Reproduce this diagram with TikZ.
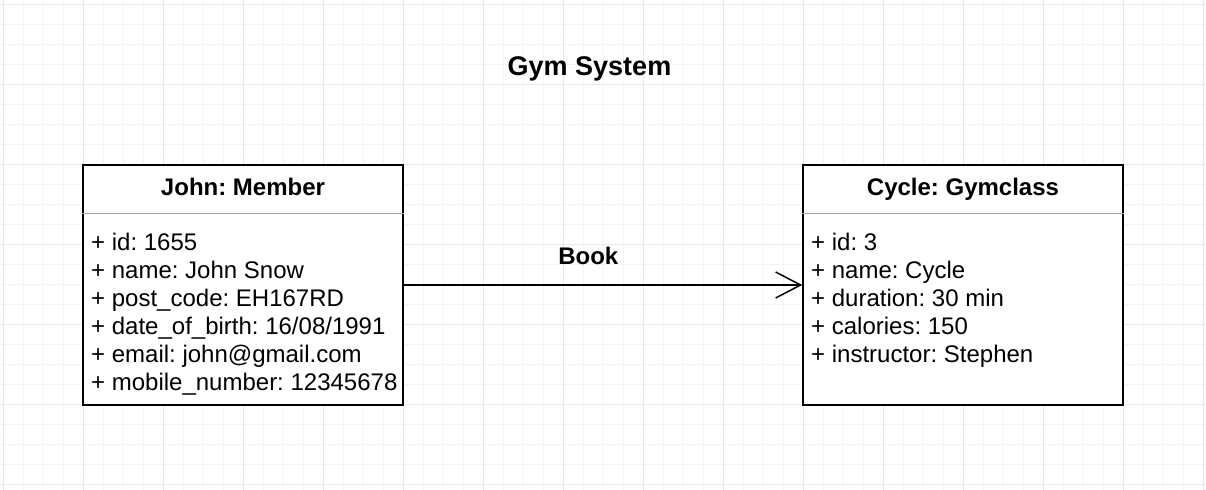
\documentclass[tikz,border=0pt]{standalone}
\usepackage{fontspec}
\setmainfont{Liberation Sans}
\usepackage{xcolor}
\usepackage{tikz}
\usetikzlibrary{arrows.meta}
\frenchspacing

\definecolor{gridminor}{HTML}{F4F4F4}
\definecolor{gridmajor}{HTML}{E8E8E8}
\definecolor{sepline}{HTML}{A6A6A6}

\begin{document}
\begin{tikzpicture}[x=1bp, y=-1bp,
    objbox/.style={draw, black, line width=1.5bp, fill=white, minimum width=320bp, minimum height=240bp, inner sep=0pt},
    objtitle/.style={font=\fontsize{24bp}{28bp}\selectfont\bfseries, anchor=base, inner sep=0pt},
    attrs/.style={font=\fontsize{24bp}{28bp}\selectfont, align=left, anchor=north west, inner sep=0pt},
    assoc/.style={line width=1.5bp, -{Straight Barb[length=25bp, width=26bp, line width=1.5bp]}}]
    \useasboundingbox (0,0) rectangle (1206,490);
    \fill[white] (0,0) rectangle (1206,490);
    % background grid
    \foreach \x in {3,23,...,1203} \draw[gridminor, line width=1bp] (\x,0) -- (\x,490);
    \foreach \y in {4.5,24.5,...,484.5} \draw[gridminor, line width=1bp] (0,\y) -- (1206,\y);
    \foreach \x in {3,83,...,1203} \draw[gridmajor, line width=1bp] (\x,0) -- (\x,490);
    \foreach \y in {4.5,84.5,...,484.5} \draw[gridmajor, line width=1bp] (0,\y) -- (1206,\y);

    \node[font=\fontsize{27bp}{32bp}\selectfont\bfseries, anchor=base, inner sep=0pt] (title) at (589.5,75.7) {Gym System};

    % member object
    \node[objbox] (member) at (243,285) {};
    \node[objtitle] (membertitle) at (243,196) {John: Member};
    \draw[sepline, line width=1bp] (member.west |- 0,214) -- (member.east |- 0,214);
    \node[attrs] (memberattrs) at (91,232.5) {+ id: 1655\\
        + name: John Snow\\
        + post\_code: EH167RD\\
        + date\_of\_birth: 16/08/1991\\
        + email: john@gmail.com\\
        + mobile\_number: 12345678};

    % gym class object
    \node[objbox] (gymclass) at (963,285) {};
    \node[objtitle] (gymclasstitle) at (963,196) {Cycle: Gymclass};
    \draw[sepline, line width=1bp] (gymclass.west |- 0,214) -- (gymclass.east |- 0,214);
    \node[attrs] (gymclassattrs) at (811,232.5) {+ id: 3\\
        + name: Cycle\\
        + duration: 30 min\\
        + calories: 150\\
        + instructor: Stephen};

    \draw[assoc] (member.east) -- node[pos=0.463, above=20bp, font=\fontsize{24bp}{28bp}\selectfont\bfseries, inner sep=0pt] (book) {Book} (gymclass.west);
\end{tikzpicture}
\end{document}
